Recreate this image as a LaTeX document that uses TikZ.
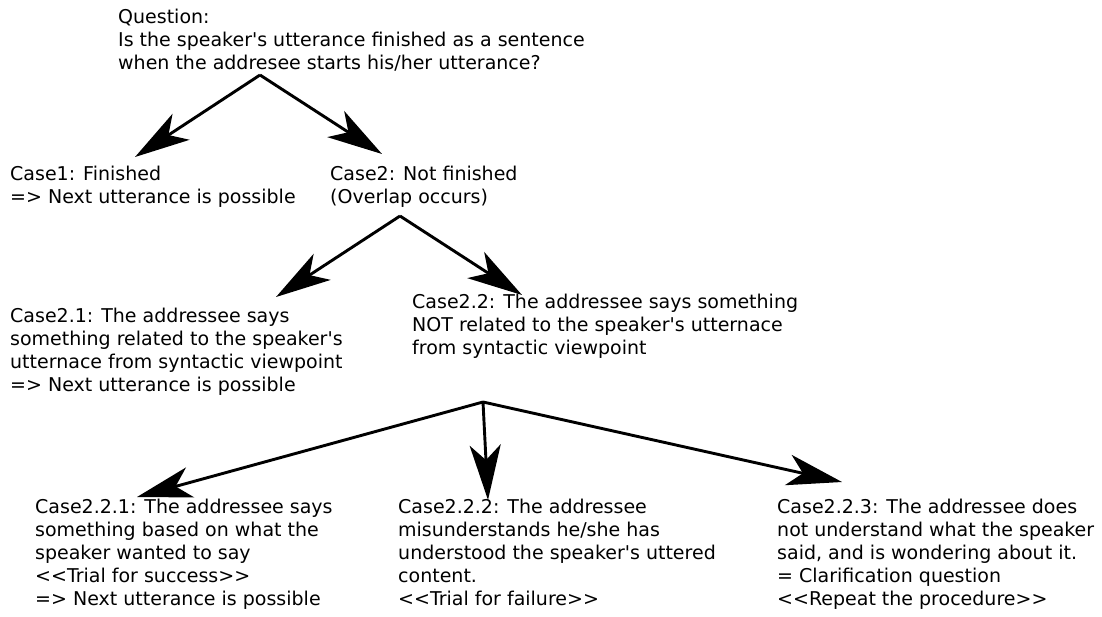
\documentclass[tikz,border=0pt]{standalone}
\usepackage{fontspec}
\newfontfamily\diagfont{DejaVu Sans}
\usetikzlibrary{arrows.meta}
\definecolor{ink}{HTML}{000000}

\begin{document}
\begin{tikzpicture}[x=1pt,y=-1pt,
  every node/.style={anchor=north west,align=left,inner sep=0pt,text=ink,
    font=\diagfont\fontsize{19}{23}\selectfont},
  branch/.style={ink,line width=2.9pt,-{Stealth[length=55pt,width=31pt,inset=15pt]}}]
\useasboundingbox (0,0) rectangle (1102,616);
% question and first split
\node (question) at (118,9) {Question:\\Is the speaker's utterance finished as a sentence\\when the addresee starts his/her utterance?};
\node (case1) at (10,166) {Case1: Finished\\=> Next utterance is possible};
\node (case2) at (330,166) {Case2: Not finished\\(Overlap occurs)};
\coordinate (qfork) at (260,75);
\coordinate (case1tip) at (135,157);
\coordinate (case2tip) at (382,154);
\draw[branch] (qfork) -- (case1tip);
\draw[branch] (qfork) -- (case2tip);
% second split
\node (case21) at (10,308) {Case2.1: The addressee says\\something related to the speaker's\\utternace from syntactic viewpoint\\=> Next utterance is possible};
\node (case22) at (412,294) {Case2.2: The addressee says something\\NOT related to the speaker's utternace\\from syntactic viewpoint};
\coordinate (c2fork) at (400,216);
\coordinate (case21tip) at (276,297);
\coordinate (case22tip) at (522,295);
\draw[branch] (c2fork) -- (case21tip);
\draw[branch] (c2fork) -- (case22tip);
% third split
\node (case221) at (35,499) {Case2.2.1: The addressee says\\something based on what the\\speaker wanted to say\\<<Trial for success>>\\=> Next utterance is possible};
\node (case222) at (398,499) {Case2.2.2: The addressee\\misunderstands he/she has\\understood the speaker's uttered\\content.\\<<Trial for failure>>};
\node (case223) at (777,499) {Case2.2.3: The addressee does\\not understand what the speaker\\said, and is wondering about it.\\= Clarification question\\<<Repeat the procedure>>};
\coordinate (c22fork) at (483,402);
\coordinate (case221tip) at (137,497);
\coordinate (case222tip) at (488,500);
\coordinate (case223tip) at (842,482);
\draw[branch] (c22fork) -- (case221tip);
\draw[branch] (c22fork) -- (case222tip);
\draw[branch] (c22fork) -- (case223tip);
\end{tikzpicture}
\end{document}
